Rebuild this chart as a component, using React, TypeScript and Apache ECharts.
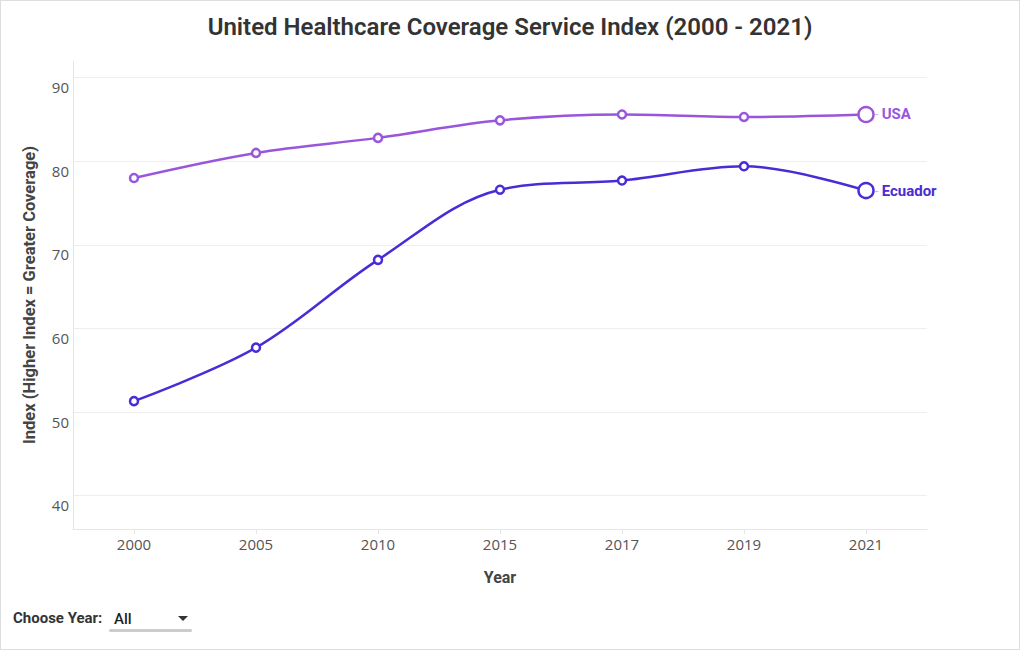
import React, { useEffect, useRef } from "react";
import * as echarts from "echarts";

const years = ["2000", "2005", "2010", "2015", "2017", "2019", "2021"];
const usaValues = [78.0, 81.0, 82.8, 84.9, 85.6, 85.3, 85.6];
const ecuadorValues = [51.3, 57.7, 68.2, 76.6, 77.7, 79.4, 76.5];
const yTicks = [40, 50, 60, 70, 80, 90];

const USA_COLOR = "#9a55dd";
const ECU_COLOR = "#4a2bd6";
const FONT = "Roboto, 'Open Sans', sans-serif";
const TICK_FONT = "'Open Sans', Roboto, sans-serif";

function makeData(values: number[]) {
  return values.map((v, i) =>
    i === values.length - 1 ? { value: v, symbolSize: 15 } : { value: v }
  );
}

function makeSeries(name: string, values: number[], color: string) {
  return {
    name,
    type: "line",
    smooth: 0.35,
    data: makeData(values),
    symbol: "circle",
    symbolSize: 8,
    showAllSymbol: true,
    lineStyle: { color, width: 2.5 },
    itemStyle: { color: "#ffffff", borderColor: color, borderWidth: 2.5 },
    endLabel: {
      show: true,
      formatter: "{d|-} {n|" + name + "}",
      distance: 9,
      rich: {
        d: { color: "#bbbbbb", fontSize: 12, fontFamily: FONT },
        n: { color, fontSize: 15, fontWeight: "bold", fontFamily: FONT },
      },
    },
    z: name === "USA" ? 3 : 4,
  };
}

export default function App() {
  const ref = useRef<HTMLDivElement>(null);

  useEffect(() => {
    document.body.style.margin = "0";
    if (!ref.current) return;
    const chart = echarts.init(ref.current, undefined, { renderer: "svg" });
    chart.setOption({
      animation: false,
      backgroundColor: "#ffffff",
      title: {
        text: "United Healthcare Coverage Service Index (2000 - 2021)",
        left: "center",
        top: 9,
        textStyle: {
          fontFamily: FONT,
          fontSize: 24,
          fontWeight: 600,
          color: "#333333",
        },
      },
      grid: { left: 72, right: 92, top: 60, bottom: 120 },
      xAxis: {
        type: "category",
        data: years,
        boundaryGap: true,
        name: "Year",
        nameLocation: "middle",
        nameGap: 40,
        nameTextStyle: {
          fontFamily: FONT,
          fontSize: 16,
          fontWeight: "bold",
          color: "#444444",
        },
        axisLine: { show: true, lineStyle: { color: "#e6e6e6", width: 1 } },
        axisTick: {
          show: true,
          alignWithLabel: true,
          length: 5,
          lineStyle: { color: "#e6e6e6" },
        },
        axisLabel: {
          fontFamily: TICK_FONT,
          fontSize: 15,
          color: "#555555",
          margin: 7,
        },
        splitLine: { show: false },
      },
      yAxis: {
        type: "value",
        min: 36,
        max: 92,
        name: "Index (Higher Index = Greater Coverage)",
        nameLocation: "middle",
        nameGap: 35,
        nameTextStyle: {
          fontFamily: FONT,
          fontSize: 16.5,
          fontWeight: "bold",
          color: "#444444",
        },
        axisLine: { show: true, lineStyle: { color: "#e6e6e6", width: 1 } },
        axisTick: { show: false, customValues: yTicks },
        axisLabel: {
          customValues: yTicks,
          fontFamily: TICK_FONT,
          fontSize: 15,
          color: "#555555",
          margin: 4,
          verticalAlign: "top",
          padding: [2, 0, 0, 0],
        },
        splitLine: { show: true, lineStyle: { color: "#eeeeee", width: 1 } },
      },
      series: [
        makeSeries("USA", usaValues, USA_COLOR),
        makeSeries("Ecuador", ecuadorValues, ECU_COLOR),
      ],
      graphic: [
        {
          type: "text",
          left: 12,
          top: 609,
          style: {
            text: "Choose Year:",
            fontFamily: FONT,
            fontSize: 15,
            fontWeight: "bold",
            fill: "#333333",
          },
        },
        {
          type: "text",
          left: 113,
          top: 610,
          style: {
            text: "All",
            fontFamily: FONT,
            fontSize: 15,
            fontWeight: 500,
            fill: "#222222",
          },
        },
        {
          type: "polygon",
          shape: { points: [[177, 615], [187, 615], [182, 620]] },
          style: { fill: "#333333" },
        },
        {
          type: "rect",
          shape: { x: 108, y: 628, width: 83, height: 3, r: 1.5 },
          style: { fill: "#cccccc" },
        },
      ],
    });
    return () => chart.dispose();
  }, []);

  return (
    <div
      style={{
        position: "fixed",
        left: 0,
        top: 0,
        width: 1020,
        height: 650,
        boxSizing: "border-box",
        border: "1px solid #dddddd",
        overflow: "hidden",
      }}
    >
      <div ref={ref} style={{ width: 1018, height: 648 }} />
    </div>
  );
}
